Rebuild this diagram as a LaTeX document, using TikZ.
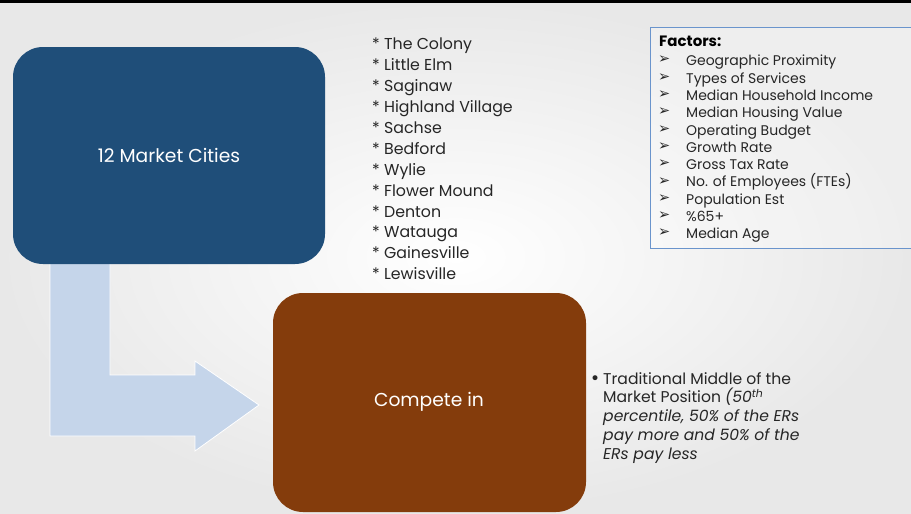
\documentclass[tikz,border=0pt]{standalone}
\usepackage{fontspec}
\setmainfont{Poppins}
\newfontfamily\dejavu{DejaVu Sans}
\usetikzlibrary{positioning}
\definecolor{boxblue}{HTML}{1F4E79}
\definecolor{boxbrown}{HTML}{843C0C}
\definecolor{arrowblue}{HTML}{C5D5EA}
\definecolor{framebl}{HTML}{6A94CC}
\definecolor{txt}{HTML}{262626}
\tikzset{
  bigtext/.style={text=white, font=\fontsize{18.7}{22}\selectfont},
  citytext/.style={anchor=north west, inner sep=0pt, text=txt, align=left, font=\fontsize{15.8}{20.9}\selectfont},
  factext/.style={anchor=north west, inner sep=0pt, text=txt, align=left, font=\fontsize{14}{17.3}\selectfont},
  bullettext/.style={anchor=north west, inner sep=0pt, text=txt, align=left, font=\fontsize{15.6}{18.8}\selectfont},
}
\begin{document}
\begin{tikzpicture}[x=1pt,y=-1pt]
\useasboundingbox (0,0) rectangle (911,514);
% background
\shade[inner color=white, outer color=black!9] (0,0) rectangle (911,514);
\fill[black] (0,0) rectangle (911,3);
% arrow
\fill[arrowblue, draw=white, line width=0.8pt]
  (50,262) -- (110,262) -- (110,375) -- (195,375) -- (195,361) -- (259,405)
  -- (195,451) -- (195,436) -- (50,436) -- cycle;
% boxes
\fill[boxblue, rounded corners=30pt] (13,47) rectangle (325,264);
\node[bigtext] (mc) at (169,155) {12 Market Cities};
\fill[boxbrown, rounded corners=30pt] (273,293) rectangle (586,512);
\node[bigtext] (ci) at (429,402) {Compete in};
% cities
\node[citytext] (cities) at (372,38) {* The Colony\\* Little Elm\\* Saginaw\\* Highland Village\\* Sachse\\* Bedford\\* Wylie\\* Flower Mound\\* Denton\\* Watauga\\* Gainesville\\* Lewisville};
% factors
\draw[framebl, line width=0.8pt, fill=white, fill opacity=0.3] (650.5,27.5) rectangle (915,248);
\node[anchor=north west, inner sep=0pt, text=black, font=\fontsize{15}{17}\selectfont\bfseries] (fh) at (659,36) {Factors:};
\node[factext, font=\dejavu\fontsize{14.5}{17.3}\selectfont] (fb) at (658,56) {➢\\ ➢\\ ➢\\ ➢\\ ➢\\ ➢\\ ➢\\ ➢\\ ➢\\ ➢\\ ➢};
\node[factext] (ft) at (686,55) {Geographic Proximity\\Types of Services\\Median Household Income\\Median Housing Value\\Operating Budget\\Growth Rate\\Gross Tax Rate\\No. of Employees (FTEs)\\Population Est\\\%65+\\Median Age};
% bullet
\node[anchor=base west, inner sep=0pt, text=txt, font=\dejavu\fontsize{17}{18.8}\selectfont] (bd) at (590,384) {•};
\node[bullettext] (bt) at (603,372) {Traditional Middle of the\\Market Position \textit{(50\textsuperscript{th}}\\\textit{percentile, 50\% of the ERs}\\\textit{pay more and 50\% of the}\\\textit{ERs pay less}};
\end{tikzpicture}
\end{document}
